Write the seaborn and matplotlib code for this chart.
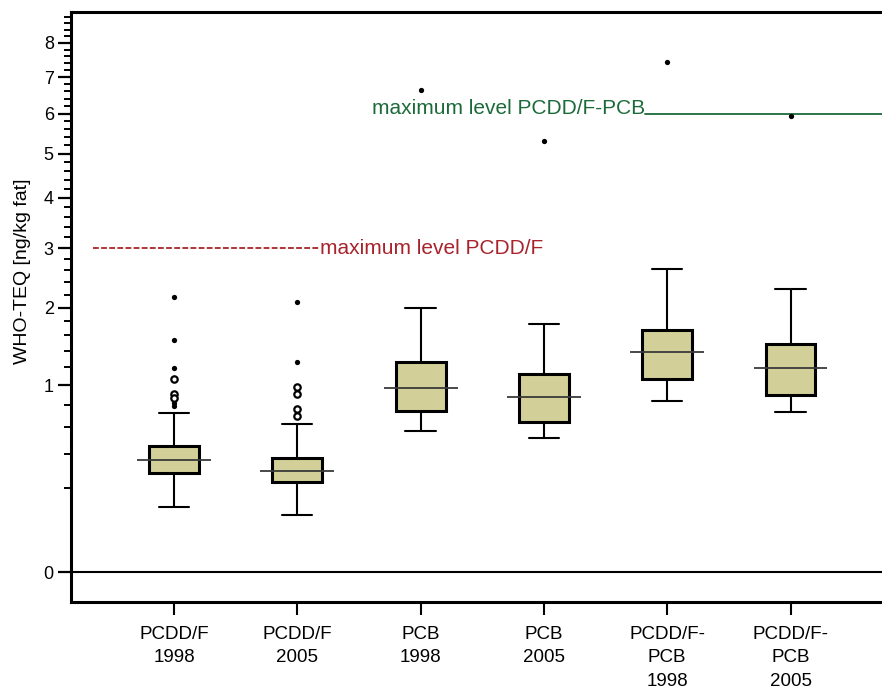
import numpy as np
import pandas as pd
import matplotlib
matplotlib.use("Agg")
import matplotlib.pyplot as plt
import seaborn as sns

# Five-number summaries of WHO-TEQ per group (ng/kg fat)
groups = ["PCDD/F\n1998", "PCDD/F\n2005", "PCB\n1998", "PCB\n2005",
          "PCDD/F-\nPCB\n1998", "PCDD/F-\nPCB\n2005"]
whisker_low = [0.121, 0.092, 0.572, 0.512, 0.840, 0.729]
q1 = [0.282, 0.230, 0.739, 0.641, 1.068, 0.899]
median = [0.356, 0.291, 0.964, 0.872, 1.383, 1.185]
q3 = [0.453, 0.373, 1.264, 1.116, 1.672, 1.492]
whisker_high = [0.727, 0.624, 1.998, 1.764, 2.623, 2.289]

# Outlying samples: single points and overlapping pairs (drawn as rings)
outlier_dots = [[2.16, 1.54, 1.19, 0.82, 0.785], [2.09, 1.26, 0.73],
                [6.63], [5.31], [7.43], [5.93]]
outlier_rings = [[1.07, 0.91, 0.87], [0.98, 0.91, 0.76, 0.70],
                 [], [], [], []]

# EU maximum levels
max_level_pcddf = 3.0
max_level_sum = 6.0

yticks_major = list(range(9))

sns.set_style("white")
plt.rcParams["font.family"] = ["Liberation Sans", "DejaVu Sans"]
plt.rcParams.update({
    "text.color": "black", "axes.labelcolor": "black",
    "xtick.color": "black", "ytick.color": "black",
})

RED = "#a8232b"
GREEN = "#1c6a3a"
BOX_FILL = "#d3cf98"


def fwd(v):
    v = np.asarray(v, dtype=float)
    return np.sign(v) * np.sqrt(np.abs(v))


def inv(v):
    v = np.asarray(v, dtype=float)
    return np.sign(v) * v ** 2


fig = plt.figure(figsize=(8.82, 6.91), dpi=100)
ax = fig.add_axes([71 / 882, 1 - 601.5 / 691, 1 - 71 / 882, (601.5 - 12) / 691])
ax.set_yscale("function", functions=(fwd, inv))

box_df = pd.DataFrame({
    "group": np.repeat(groups, 5),
    "value": np.column_stack([whisker_low, q1, median, q3, whisker_high]).ravel(),
})

sns.boxplot(data=box_df, x="group", y="value", order=groups, whis=(0, 100),
            width=0.405, color=BOX_FILL, saturation=1, linecolor="black",
            showfliers=False, capwidths=0.245,
            boxprops=dict(linewidth=2.2),
            whiskerprops=dict(linewidth=1.5),
            capprops=dict(linewidth=1.5),
            medianprops=dict(visible=False),
            ax=ax)

# median bars reach past the box edges
pos = np.arange(len(groups))
ax.hlines(median, pos - 0.3, pos + 0.3, color="#3a3a3a", lw=1.3, zorder=5)

dot_df = pd.DataFrame([(g, v) for g, vals in zip(groups, outlier_dots) for v in vals],
                      columns=["group", "value"])
ring_df = pd.DataFrame([(g, v) for g, vals in zip(groups, outlier_rings) for v in vals],
                       columns=["group", "value"])
sns.stripplot(data=dot_df, x="group", y="value", order=groups, jitter=False,
              color="black", size=3.8, linewidth=0, ax=ax, zorder=6)
sns.stripplot(data=ring_df, x="group", y="value", order=groups, jitter=False,
              color="white", edgecolor="black", size=4.6, linewidth=1.6,
              ax=ax, zorder=6)

xmin, xmax = -0.835, 5.742
ax.set_xlim(xmin, xmax)
ax.set_ylim(-0.0246, 8.96)

ax.axhline(0, color="black", lw=1.5, zorder=1)

# limit annotations
t_red = ax.text(1.184, max_level_pcddf, "maximum level PCDD/F", color=RED,
                fontsize=15, ha="left", va="center")
t_green = ax.text(1.606, max_level_sum, "maximum level PCDD/F-PCB", color=GREEN,
                  fontsize=15, ha="left", va="baseline")
fig.canvas.draw()
inv_data = ax.transData.inverted()
r_bb = t_red.get_window_extent()
g_bb = t_green.get_window_extent()
red_end = inv_data.transform((r_bb.x0, r_bb.y0))[0]
green_start = inv_data.transform((g_bb.x1, g_bb.y0))[0]
ax.plot([-0.657, red_end], [max_level_pcddf] * 2, color=RED, lw=1.3,
        dashes=(3.2, 1.3))
ax.plot([green_start, xmax], [max_level_sum] * 2, color=GREEN, lw=1.3)

# axes styling
ax.set_yticks(yticks_major)
ax.set_yticklabels([str(t) for t in yticks_major])
minor = [round(0.2 * k, 1) for k in range(1, 45) if k % 5 != 0]
ax.set_yticks(minor, minor=True)
ax.tick_params(axis="y", which="major", length=9.4, width=1.6, direction="out",
               labelsize=13, pad=3, left=True)
ax.tick_params(axis="y", which="minor", length=5, width=1.4, direction="out",
               left=True)
ax.set_xticks(pos)
ax.set_xticklabels(groups, fontsize=13.5, linespacing=1.5)
ax.tick_params(axis="x", length=9.4, width=1.5, direction="out", pad=8,
               bottom=True)
ax.set_xlabel("")
ax.set_ylabel("WHO-TEQ [ng/kg fat]", fontsize=14)
ax.yaxis.set_label_coords(-0.049, 0.561)

for side in ["left", "bottom", "top"]:
    ax.spines[side].set_linewidth(2.2)
    ax.spines[side].set_color("black")
ax.spines["right"].set_visible(False)

fig.savefig("out.png", dpi=100)
